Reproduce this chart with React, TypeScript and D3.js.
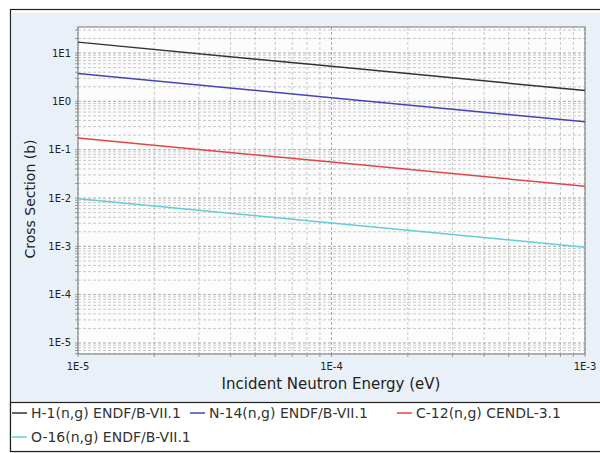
import React from "react";
import * as d3 from "d3";

const energies = [1e-5, 1e-4, 1e-3];
const seriesNames = [
  "H-1(n,g) ENDF/B-VII.1",
  "N-14(n,g) ENDF/B-VII.1",
  "C-12(n,g) CENDL-3.1",
  "O-16(n,g) ENDF/B-VII.1",
];
const h1Values = [16.8, 5.3, 1.68];
const n14Values = [3.77, 1.19, 0.377];
const c12Values = [0.175, 0.0553, 0.0175];
const o16Values = [0.0096, 0.00304, 0.00096];
const seriesColors = ["#333333", "#4444b8", "#e04646", "#62cdd8"];
const xTickLabels = ["1E-5", "1E-4", "1E-3"];
const yTickLabels = ["1E-5", "1E-4", "1E-3", "1E-2", "1E-1", "1E0", "1E1"];

export default function App() {
  const W = 600, H = 453;
  const left = 78, right = 585, top = 27, bottom = 354;
  const x = d3.scaleLog().domain([1e-5, 1e-3]).range([left, right]);
  const yDecade = 48.3;
  const yTopVal = Math.pow(10, 1 + (53 - top) / yDecade);
  const yBotVal = Math.pow(10, -5 - (bottom - 343) / yDecade);
  const y = d3.scaleLog().domain([yBotVal, yTopVal]).range([bottom, top]);

  const allSeries = [h1Values, n14Values, c12Values, o16Values];
  const line = d3
    .line<number>()
    .x((_, i) => x(energies[i]))
    .y((d) => y(d));

  const xMinor: number[] = [];
  for (let e = -5; e < -3; e++) for (let m = 2; m <= 9; m++) xMinor.push(m * Math.pow(10, e));
  const xMajor = [1e-5, 1e-4, 1e-3];
  const yMinor: number[] = [];
  for (let e = -6; e <= 1; e++)
    for (let m = 2; m <= 9; m++) {
      const v = m * Math.pow(10, e);
      if (v >= yBotVal && v <= yTopVal) yMinor.push(v);
    }
  const yMajor = yTickLabels.map((_, i) => Math.pow(10, -5 + i));

  const font = "DejaVu Sans, sans-serif";
  const legendItems = [
    { x: 11, y: 413 },
    { x: 189, y: 413 },
    { x: 396, y: 413 },
    { x: 11, y: 437 },
  ];

  return (
    <svg width={W} height={H} style={{ position: "absolute", left: 0, top: 0 }}>
      <rect x={0} y={0} width={W} height={H} fill="#ffffff" />
      <rect x={10.5} y={9.5} width={600} height={442} fill="#ffffff" stroke="#222" strokeWidth={1.2} />
      <rect x={12} y={13} width={600} height={389} fill="#e9f0f8" />
      <rect x={left} y={top} width={right - left} height={bottom - top} fill="#fcfcfc" />
      <g stroke="#bdbdbd" strokeWidth={0.8} strokeDasharray="3,2">
        {xMinor.map((v, i) => (
          <line key={"xm" + i} x1={x(v)} x2={x(v)} y1={top} y2={bottom} />
        ))}
        {yMinor.map((v, i) => (
          <line key={"ym" + i} x1={left} x2={right} y1={y(v)} y2={y(v)} />
        ))}
      </g>
      <g stroke="#a0a0a0" strokeWidth={0.9} strokeDasharray="3,2">
        {xMajor.map((v, i) => (
          <line key={"xM" + i} x1={x(v)} x2={x(v)} y1={top} y2={bottom} />
        ))}
        {yMajor.map((v, i) => (
          <line key={"yM" + i} x1={left} x2={right} y1={y(v)} y2={y(v)} />
        ))}
      </g>
      <g stroke="#999" strokeWidth={1}>
        {xMinor.concat(xMajor).map((v, i) => (
          <line key={"xt" + i} x1={x(v)} x2={x(v)} y1={bottom} y2={bottom + 3} />
        ))}
        {yMinor.concat(yMajor).map((v, i) => (
          <line key={"yt" + i} x1={left - 3} x2={left} y1={y(v)} y2={y(v)} />
        ))}
      </g>
      <rect x={left} y={top} width={right - left} height={bottom - top} fill="none" stroke="#8a8a8a" strokeWidth={1.2} />
      {allSeries.map((vals, i) => (
        <path key={"s" + i} d={line(vals) || ""} fill="none" stroke={seriesColors[i]} strokeWidth={1.5} />
      ))}
      <g fontFamily={font} fontSize={10} fill="#222">
        {yTickLabels.map((t, i) => (
          <text key={"yl" + i} x={left - 7} y={y(yMajor[i])} textAnchor="end" dominantBaseline="central">
            {t}
          </text>
        ))}
        {xTickLabels.map((t, i) => (
          <text key={"xl" + i} x={x(xMajor[i])} y={bottom + 12} textAnchor="middle" dominantBaseline="central">
            {t}
          </text>
        ))}
      </g>
      <text x={331} y={389} fontFamily={font} fontSize={15} fill="#222" textAnchor="middle">
        Incident Neutron Energy (eV)
      </text>
      <text
        transform={`translate(35, 199) rotate(-90)`}
        fontFamily={font}
        fontSize={14}
        fill="#222"
        textAnchor="middle"
      >
        Cross Section (b)
      </text>
      <rect x={10.5} y={402.5} width={600} height={49} fill="#ffffff" stroke="#222" strokeWidth={1.2} />
      {legendItems.map((p, i) => (
        <g key={"lg" + i}>
          <line x1={p.x + 1} x2={p.x + 16} y1={p.y} y2={p.y} stroke={seriesColors[i]} strokeWidth={1.5} />
          <text x={p.x + 20} y={p.y} dominantBaseline="central" fontFamily={font} fontSize={14} fill="#333">
            {seriesNames[i]}
          </text>
        </g>
      ))}
    </svg>
  );
}
